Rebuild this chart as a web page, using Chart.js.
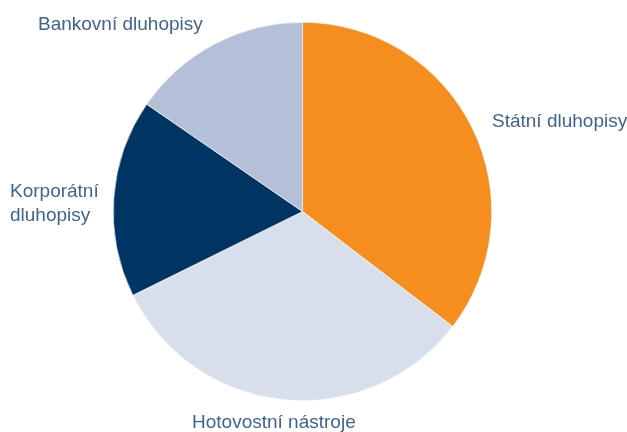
<!DOCTYPE html>
<html lang="cs">
<head>
<meta charset="UTF-8">
<title>Struktura portfolia</title>
<style>
    body { margin: 0; background: #fff; }
</style>
</head>
<body>
<canvas id="pieChart" width="627" height="432"></canvas>

<script src="https://cdn.jsdelivr.net/npm/chart.js"></script>
<script>
    // chart data
    const categories = ['Státní dluhopisy', 'Hotovostní nástroje', 'Korporátní dluhopisy', 'Bankovní dluhopisy'];
    const shares = [35.4, 32.3, 16.9, 15.4];
    const colors = ['#F68E1F', '#D8DFEC', '#003463', '#B3C0D8'];

    // label text lines and baseline spots (x, y)
    const labelLines = [['Státní dluhopisy'], ['Hotovostní nástroje'], ['Korporátní', 'dluhopisy'], ['Bankovní dluhopisy']];
    const labelSpots = [[492, 127], [192, 428], [10, 197], [38, 30]];

    const outsideLabels = {
        id: 'outsideLabels',
        afterDraw(chart) {
            const ctx = chart.ctx;
            ctx.save();
            ctx.fillStyle = '#42638D';
            ctx.font = '19px "Liberation Sans", Arial, sans-serif';
            ctx.textBaseline = 'alphabetic';
            ctx.textAlign = 'left';
            labelLines.forEach((lines, i) => {
                const [x, y] = labelSpots[i];
                lines.forEach((ln, j) => ctx.fillText(ln, x, y + j * 24));
            });
            ctx.restore();
        }
    };

    new Chart(document.getElementById('pieChart'), {
        type: 'pie',
        data: {
            labels: categories,
            datasets: [{
                data: shares,
                backgroundColor: colors,
                borderColor: '#ffffff',
                borderWidth: 0.6
            }]
        },
        options: {
            responsive: false,
            animation: false,
            layout: { padding: { top: 22, bottom: 31, left: 113, right: 135 } },
            plugins: {
                legend: { display: false },
                tooltip: { enabled: false }
            }
        },
        plugins: [outsideLabels]
    });
</script>
</body>
</html>
